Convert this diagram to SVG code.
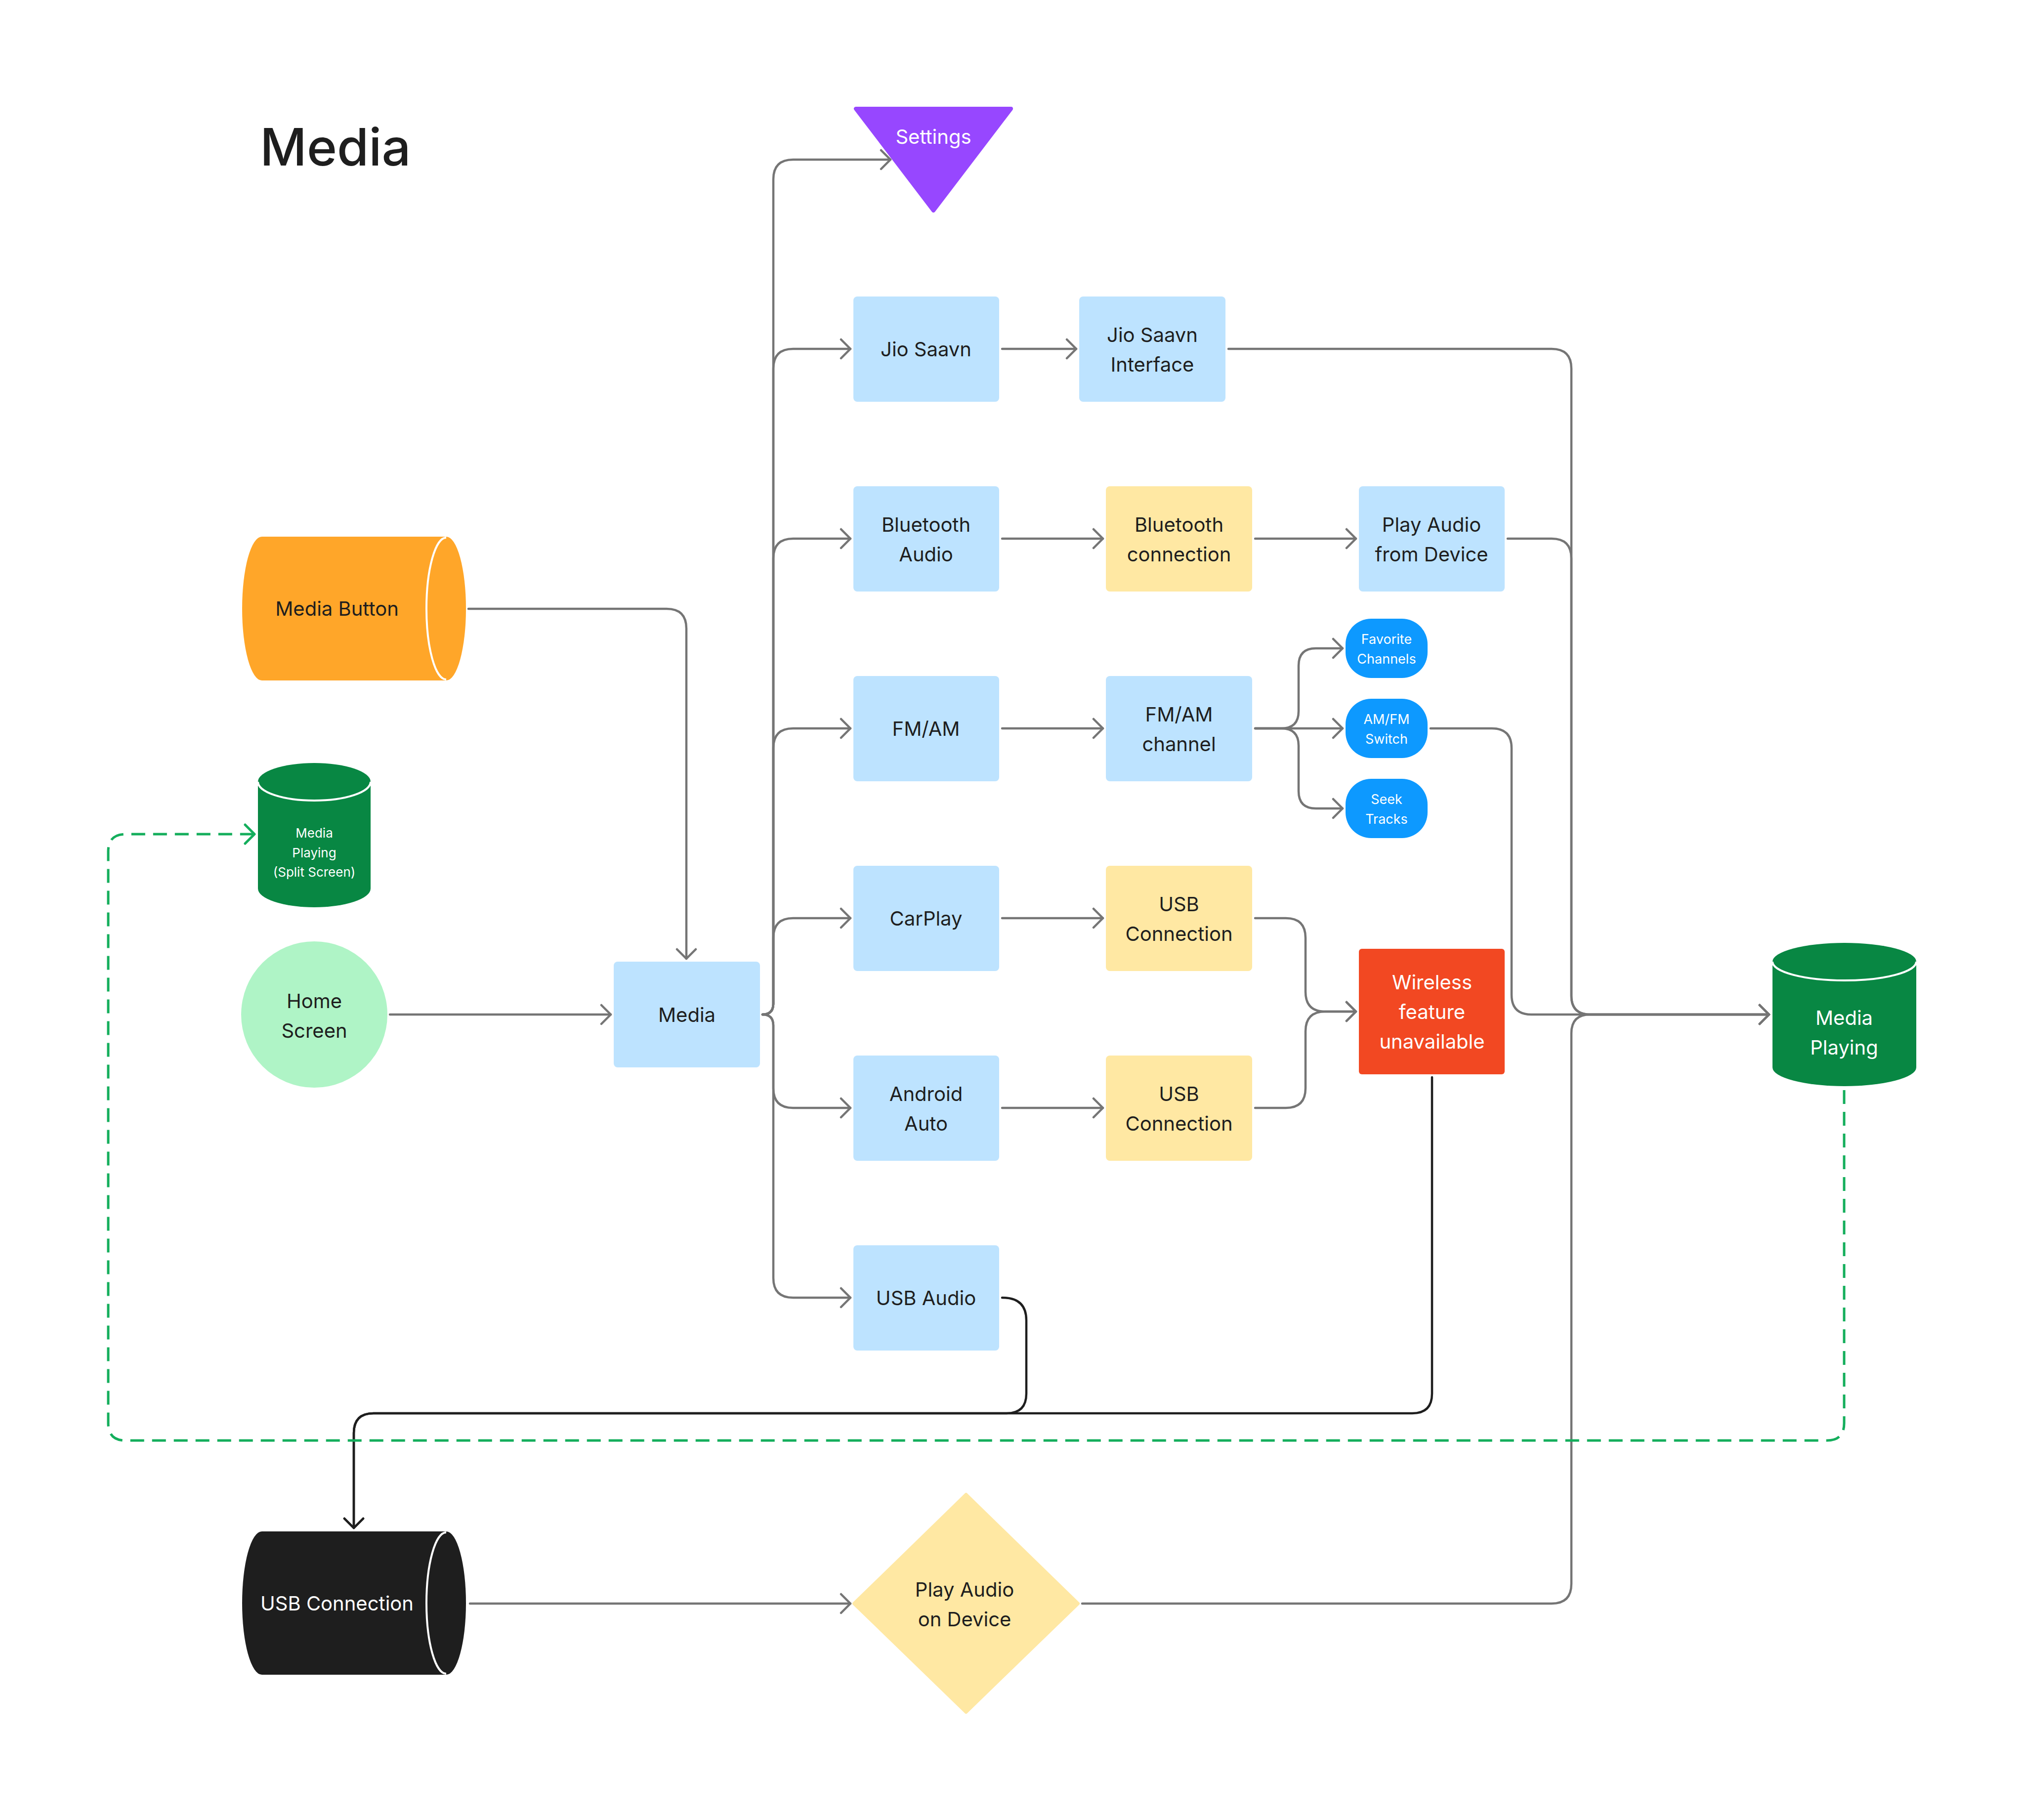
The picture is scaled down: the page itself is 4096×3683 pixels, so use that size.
<svg xmlns="http://www.w3.org/2000/svg" width="4096" height="3683" viewBox="0 0 4096 3683">
<defs>
<style>
.t{font-family:Inter,"Noto Sans","Liberation Sans",sans-serif;font-size:40px;fill:#1E1E1E;text-anchor:middle}
.w{fill:#FFFFFF}
.s{font-size:27px}
.ss{font-size:26px}
.blue{fill:#BDE3FF}
.yel{fill:#FFE8A3}
.c{fill:none;stroke:#757575;stroke-width:4.5;stroke-linecap:round;stroke-linejoin:round}
.k{fill:none;stroke:#1E1E1E;stroke-width:4.5;stroke-linecap:round;stroke-linejoin:round}
.g{fill:none;stroke:#14AE5C;stroke-width:5;stroke-dasharray:28 16}
.rim{fill:none;stroke:#FFFFFF;stroke-width:4}
</style>
<marker id="ag" viewBox="0 0 30 44" markerWidth="30" markerHeight="44" refX="22" refY="22" orient="auto" markerUnits="userSpaceOnUse"><path d="M3 3 L22 22 L3 41" fill="none" stroke="#757575" stroke-width="4.5" stroke-linecap="round" stroke-linejoin="round"/></marker>
<marker id="ak" viewBox="0 0 30 44" markerWidth="30" markerHeight="44" refX="22" refY="22" orient="auto" markerUnits="userSpaceOnUse"><path d="M3 3 L22 22 L3 41" fill="none" stroke="#1E1E1E" stroke-width="4.5" stroke-linecap="round" stroke-linejoin="round"/></marker>
<marker id="agr" viewBox="0 0 30 44" markerWidth="30" markerHeight="44" refX="22" refY="22" orient="auto" markerUnits="userSpaceOnUse"><path d="M3 3 L22 22 L3 41" fill="none" stroke="#14AE5C" stroke-width="5" stroke-linecap="round" stroke-linejoin="round"/></marker>
</defs>
<rect width="4096" height="3683" fill="#FFFFFF"/>
<text x="526" y="335" class="t" style="font-size:104px;text-anchor:start;font-weight:500">Media</text>

<g id="connectors">
<path class="c" marker-end="url(#ag)" d="M1543 2053 Q1565 2053 1565 2031 L1565 363 Q1565 323 1605 323 L1802 323"/>
<path class="c" marker-end="url(#ag)" d="M1543 2053 Q1565 2053 1565 2031 L1565 746 Q1565 706 1605 706 L1721 706"/>
<path class="c" marker-end="url(#ag)" d="M1543 2053 Q1565 2053 1565 2031 L1565 1130 Q1565 1090 1605 1090 L1721 1090"/>
<path class="c" marker-end="url(#ag)" d="M1543 2053 Q1565 2053 1565 2031 L1565 1514 Q1565 1474 1605 1474 L1721 1474"/>
<path class="c" marker-end="url(#ag)" d="M1543 2053 Q1565 2053 1565 2031 L1565 1898 Q1565 1858 1605 1858 L1721 1858"/>
<path class="c" marker-end="url(#ag)" d="M1543 2053 Q1565 2053 1565 2075 L1565 2202 Q1565 2242 1605 2242 L1721 2242"/>
<path class="c" marker-end="url(#ag)" d="M1543 2053 Q1565 2053 1565 2075 L1565 2586 Q1565 2626 1605 2626 L1721 2626"/>
<path class="c" marker-end="url(#ag)" d="M948 1232 L1349 1232 Q1389 1232 1389 1272 L1389 1940"/>
<path class="c" marker-end="url(#ag)" d="M789 2053 L1236 2053"/>
<path class="c" marker-end="url(#ag)" d="M2028 706 L2178 706"/>
<path class="c" marker-end="url(#ag)" d="M2028 1090 L2232 1090"/>
<path class="c" marker-end="url(#ag)" d="M2540 1090 L2744 1090"/>
<path class="c" marker-end="url(#ag)" d="M2028 1474 L2232 1474"/>
<path class="c" marker-end="url(#ag)" d="M2028 1858 L2232 1858"/>
<path class="c" marker-end="url(#ag)" d="M2028 2242 L2232 2242"/>
<path class="c" marker-end="url(#ag)" d="M2540 1474 L2593 1474 Q2628 1474 2628 1439 L2628 1347 Q2628 1312 2663 1312 L2717 1312"/>
<path class="c" marker-end="url(#ag)" d="M2540 1474 L2717 1474"/>
<path class="c" marker-end="url(#ag)" d="M2540 1474 L2593 1474 Q2628 1474 2628 1509 L2628 1601 Q2628 1636 2663 1636 L2717 1636"/>
<path class="c" marker-end="url(#ag)" d="M2540 1858 L2602 1858 Q2642 1858 2642 1898 L2642 2007 Q2642 2047 2682 2047 L2744 2047"/>
<path class="c" marker-end="url(#ag)" d="M2540 2242 L2602 2242 Q2642 2242 2642 2202 L2642 2087 Q2642 2047 2682 2047 L2744 2047"/>
<path class="c" marker-end="url(#ag)" d="M2486 706 L3140 706 Q3180 706 3180 746 L3180 2015 Q3180 2053 3218 2053 L3580 2053"/>
<path class="c" marker-end="url(#ag)" d="M3051 1090 L3140 1090 Q3180 1090 3180 1130 L3180 2015 Q3180 2053 3218 2053 L3580 2053"/>
<path class="c" marker-end="url(#ag)" d="M2895 1474 L3019 1474 Q3059 1474 3059 1514 L3059 2013 Q3059 2053 3099 2053 L3580 2053"/>
<path class="c" marker-end="url(#ag)" d="M2190 3245 L3140 3245 Q3180 3245 3180 3205 L3180 2091 Q3180 2053 3218 2053 L3580 2053"/>
<path class="c" marker-end="url(#ag)" d="M951 3245 L1721 3245"/>
<path class="k" marker-end="url(#ak)" d="M2028 2626 Q2077 2626 2077 2672 L2077 2820 Q2077 2860 2037 2860 L756 2860 Q716 2860 716 2900 L716 3092"/>
<path class="k" marker-end="url(#ak)" d="M2898 2180 L2898 2820 Q2898 2860 2858 2860 L756 2860 Q716 2860 716 2900 L716 3092"/>
<path class="g" marker-end="url(#agr)" d="M3732 2206 L3732 2880 Q3732 2915 3697 2915 L254 2915 Q219 2915 219 2880 L219 1723 Q219 1688 254 1688 L515 1688"/>
</g>

<g id="settings">
<polygon points="1732,220 2046,220 1889,426" fill="#9747FF" stroke="#9747FF" stroke-width="8" stroke-linejoin="round"/>
<text x="1889" y="291" class="t w">Settings</text>
</g>

<g id="jio-saavn"><rect x="1727" y="600" width="295" height="213" rx="8" class="blue"/><text x="1874" y="721" class="t">Jio Saavn</text></g>
<g id="jio-saavn-interface"><rect x="2184" y="600" width="296" height="213" rx="8" class="blue"/><text x="2332" y="692" class="t">Jio Saavn</text><text x="2332" y="752" class="t">Interface</text></g>

<g id="bluetooth-audio"><rect x="1727" y="984" width="295" height="213" rx="8" class="blue"/><text x="1874" y="1076" class="t">Bluetooth</text><text x="1874" y="1136" class="t">Audio</text></g>
<g id="bluetooth-connection"><rect x="2238" y="984" width="296" height="213" rx="8" class="yel"/><text x="2386" y="1076" class="t">Bluetooth</text><text x="2386" y="1136" class="t">connection</text></g>
<g id="play-audio-from-device"><rect x="2750" y="984" width="295" height="213" rx="8" class="blue"/><text x="2897" y="1076" class="t">Play Audio</text><text x="2897" y="1136" class="t">from Device</text></g>

<g id="fm-am"><rect x="1727" y="1368" width="295" height="213" rx="8" class="blue"/><text x="1874" y="1489" class="t">FM/AM</text></g>
<g id="fm-am-channel"><rect x="2238" y="1368" width="296" height="213" rx="8" class="blue"/><text x="2386" y="1460" class="t">FM/AM</text><text x="2386" y="1520" class="t">channel</text></g>

<g id="favorite-channels"><rect x="2723" y="1252" width="166" height="120" rx="52" fill="#0D99FF"/><text x="2806" y="1303" class="t w s">Favorite</text><text x="2806" y="1343" class="t w s">Channels</text></g>
<g id="am-fm-switch"><rect x="2723" y="1414" width="166" height="120" rx="52" fill="#0D99FF"/><text x="2806" y="1465" class="t w s">AM/FM</text><text x="2806" y="1505" class="t w s">Switch</text></g>
<g id="seek-tracks"><rect x="2723" y="1576" width="166" height="120" rx="52" fill="#0D99FF"/><text x="2806" y="1627" class="t w s">Seek</text><text x="2806" y="1667" class="t w s">Tracks</text></g>

<g id="carplay"><rect x="1727" y="1752" width="295" height="213" rx="8" class="blue"/><text x="1874" y="1873" class="t">CarPlay</text></g>
<g id="usb-connection-carplay"><rect x="2238" y="1752" width="296" height="213" rx="8" class="yel"/><text x="2386" y="1844" class="t">USB</text><text x="2386" y="1904" class="t">Connection</text></g>

<g id="wireless-unavailable"><rect x="2750" y="1920" width="295" height="254" rx="6" fill="#F24822"/><text x="2898" y="2002" class="t w">Wireless</text><text x="2898" y="2062" class="t w">feature</text><text x="2898" y="2122" class="t w">unavailable</text></g>

<g id="android-auto"><rect x="1727" y="2136" width="295" height="213" rx="8" class="blue"/><text x="1874" y="2228" class="t">Android</text><text x="1874" y="2288" class="t">Auto</text></g>
<g id="usb-connection-android"><rect x="2238" y="2136" width="296" height="213" rx="8" class="yel"/><text x="2386" y="2228" class="t">USB</text><text x="2386" y="2288" class="t">Connection</text></g>

<g id="usb-audio"><rect x="1727" y="2520" width="295" height="213" rx="8" class="blue"/><text x="1874" y="2641" class="t">USB Audio</text></g>

<g id="media"><rect x="1242" y="1946" width="296" height="214" rx="8" class="blue"/><text x="1390" y="2068" class="t">Media</text></g>

<g id="media-button">
<path d="M530 1086 L903 1086 A40 145.5 0 0 1 903 1377 L530 1377 A40 145.5 0 0 1 530 1086 Z" fill="#FFA629"/>
<path class="rim" d="M903 1088 A40 143.5 0 0 0 903 1375"/>
<text x="682" y="1246" class="t">Media Button</text>
</g>

<g id="media-playing-split">
<path d="M522 1582 A114 38 0 0 1 750 1582 L750 1798 A114 38 0 0 1 522 1798 Z" fill="#088743"/>
<path class="rim" d="M522 1582 A114 38 0 0 0 750 1582"/>
<text x="636" y="1695" class="t w ss">Media</text>
<text x="636" y="1735" class="t w ss">Playing</text>
<text x="636" y="1774" class="t w ss">(Split Screen)</text>
</g>

<g id="home-screen">
<circle cx="636" cy="2053" r="148" fill="#AFF4C6"/>
<text x="636" y="2040" class="t">Home</text>
<text x="636" y="2100" class="t">Screen</text>
</g>

<g id="media-playing">
<path d="M3587 1946 A145.5 38 0 0 1 3878 1946 L3878 2160 A145.5 38 0 0 1 3587 2160 Z" fill="#088743"/>
<path class="rim" d="M3587 1946 A145.5 38 0 0 0 3878 1946"/>
<text x="3732" y="2074" class="t w">Media</text>
<text x="3732" y="2134" class="t w">Playing</text>
</g>

<g id="usb-connection">
<path d="M530 3099 L903 3099 A40 145 0 0 1 903 3389 L530 3389 A40 145 0 0 1 530 3099 Z" fill="#1E1E1E"/>
<path class="rim" d="M903 3101 A40 143 0 0 0 903 3387"/>
<text x="682" y="3259" class="t w">USB Connection</text>
</g>

<g id="play-audio-on-device">
<polygon points="1955,3024 2182,3245 1955,3465 1728,3245" fill="#FFE8A3" stroke="#FFE8A3" stroke-width="6" stroke-linejoin="round"/>
<text x="1952" y="3231" class="t">Play Audio</text>
<text x="1952" y="3291" class="t">on Device</text>
</g>
</svg>
